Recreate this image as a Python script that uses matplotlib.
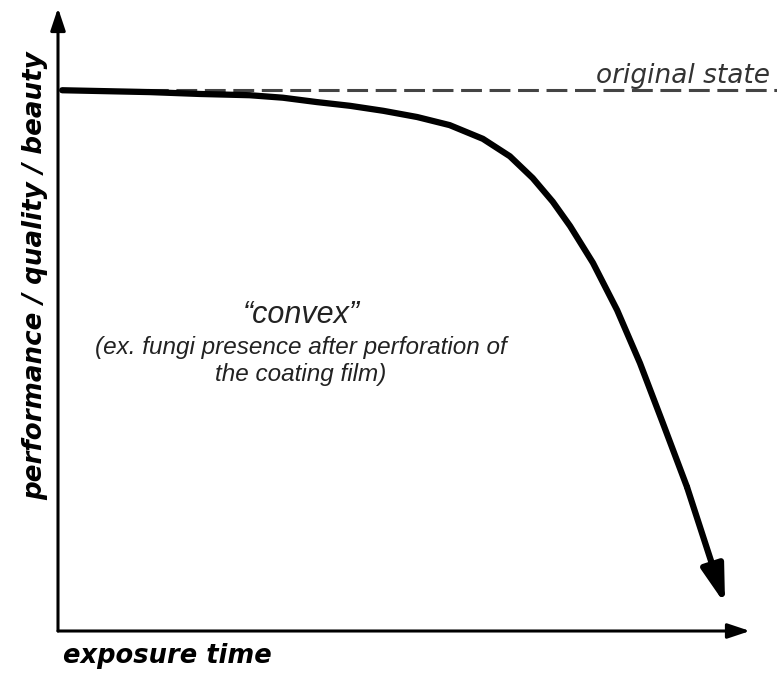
import numpy as np
import matplotlib
matplotlib.use("Agg")
import matplotlib.pyplot as plt

# performance curve (time and performance in % of axis)
exposure_time = [0.6, 13.3, 20.5, 27.7, 32.5, 37.4, 42.2, 47.0, 51.9, 56.6, 61.4,
                 65.3, 68.6, 71.5, 74.0, 77.3, 80.8, 84.1, 87.4, 90.9]
performance = [86.8, 86.5, 86.2, 86.0, 85.6, 84.9, 84.3, 83.5, 82.5, 81.2, 79.0,
               76.2, 72.7, 68.9, 65.0, 59.1, 51.5, 43.0, 33.4, 23.1]
arrow_tip = (96.4, 4.3)
original_level = 86.8

x_label = "exposure time"
y_label = "performance / quality / beauty"
ref_label = "original state"
curve_title = "\u201cconvex\u201d"
curve_note = ["(ex. fungi presence after perforation of", "the coating film)"]

plt.rcParams["lines.scale_dashes"] = False

W, H = 777, 674
fig = plt.figure(figsize=(W / 100, H / 100), dpi=100)
ax = fig.add_axes([58 / W, 1 - 631 / H, (750 - 58) / W, (631 - 8) / H])
ax.set_xlim(0, 100)
ax.set_ylim(0, 100)
ax.axis("off")

# axes drawn as arrows
for end in [(0, 1), (1, 0)]:
    ax.annotate("", xy=end, xytext=(0, 0), xycoords="axes fraction",
                arrowprops=dict(arrowstyle="-|>,head_length=0.9,head_width=0.3",
                                mutation_scale=15, lw=2.2, color="black",
                                shrinkA=0, shrinkB=0))

# original state reference
ax.plot([exposure_time[0], 104], [original_level, original_level], color="#444444",
        lw=2.2, dashes=(15, 5.5), clip_on=False, zorder=2)
ax.text(102.9, 88.0, ref_label, ha="right", va="baseline", fontsize=19,
        style="italic", color="#333333", clip_on=False)

# curve, last stretch drawn as an arrow
ax.plot(exposure_time, performance, color="black", lw=4.5, solid_capstyle="round",
        solid_joinstyle="round", zorder=3)
ax.annotate("", xy=arrow_tip, xytext=(exposure_time[-1], performance[-1]),
            arrowprops=dict(arrowstyle="-|>,head_length=1.5,head_width=0.45",
                            mutation_scale=15, lw=4.5, color="black",
                            shrinkA=0, shrinkB=0), zorder=3)

# texts
fig.text(301 / W, 1 - 315 / H, curve_title, ha="center", va="center", fontsize=22,
         style="italic", color="#222222", family="Liberation Sans")
for line, yc in zip(curve_note, [348, 375]):
    fig.text(301 / W, 1 - yc / H, line, ha="center", va="center", fontsize=17.5,
             style="italic", color="#222222", family="Liberation Sans")
fig.text(63 / W, 1 - 663 / H, x_label, ha="left", va="baseline", fontsize=18.5,
         style="italic", weight="bold", color="black")
fig.text(35 / W, 1 - 276 / H, y_label, ha="center", va="center", rotation=90,
         fontsize=18.8, style="italic", weight="bold", color="black")

fig.savefig("out.png", dpi=100)
